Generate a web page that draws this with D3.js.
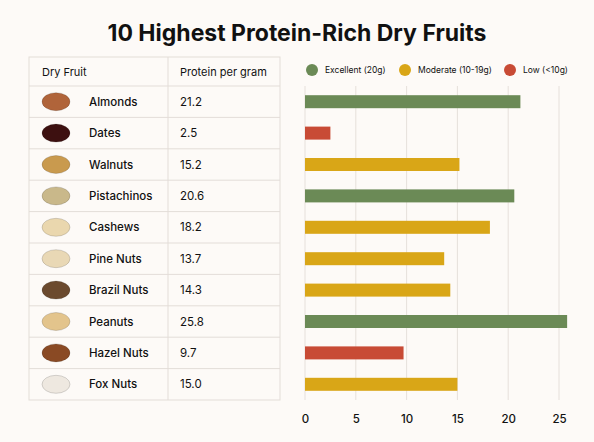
<!DOCTYPE html>
<html><head><meta charset="utf-8">
<script src="https://cdn.jsdelivr.net/npm/d3@7"></script>
<style>body{margin:0;background:#fdfaf7;font-family:Inter,"Open Sans",sans-serif;}</style>
</head><body><svg id="c" width="594" height="442"></svg>
<script>
const fruits = ['Almonds','Dates','Walnuts','Pistachinos','Cashews','Pine Nuts','Brazil Nuts','Peanuts','Hazel Nuts','Fox Nuts'];
const protein = [21.2, 2.5, 15.2, 20.6, 18.2, 13.7, 14.3, 25.8, 9.7, 15.0];
const labels = ['21.2','2.5','15.2','20.6','18.2','13.7','14.3','25.8','9.7','15.0'];
const iconColors = ['#b0643a','#3d1010','#c99a4e','#c9b88a','#ead7ae','#e9d8b5','#6b4a2e','#e3c48c','#8a4a24','#eee8e0'];
const legendNames = ['Excellent (20g)','Moderate (10-19g)','Low (<10g)'];
const legendColors = ['#6b8a56','#d9a617','#c84b35'];
const ticks = [0,5,10,15,20,25];

const svg = d3.select('#c');
svg.append('rect').attr('width',594).attr('height',442).attr('fill','#fdfaf7');
svg.append('text').attr('x',297).attr('y',41).attr('text-anchor','middle')
  .attr('font-size',23).attr('font-weight',700).attr('fill','#111')
  .text('10 Highest Protein-Rich Dry Fruits');

const y = d3.scaleBand().domain(fruits).range([86,400]);
const x = d3.scaleLinear().domain([0,25]).range([305,559]);
const color = v => v >= 20 ? legendColors[0] : v >= 10 ? legendColors[1] : legendColors[2];

// table
const t = svg.append('g').attr('stroke','#e3ddd8').attr('fill','none');
t.append('rect').attr('x',29).attr('y',57).attr('width',251).attr('height',343);
t.append('line').attr('x1',168).attr('x2',168).attr('y1',57).attr('y2',400);
[86].concat(fruits.slice(1).map(f=>y(f))).forEach(v=>
  t.append('line').attr('x1',29).attr('x2',280).attr('y1',v).attr('y2',v));
svg.append('text').attr('x',42).attr('y',76).attr('font-size',11).attr('fill','#111').text('Dry Fruit');
svg.append('text').attr('x',180).attr('y',76).attr('font-size',11).attr('fill','#111').text('Protein per gram');

const rows = svg.append('g').selectAll('g').data(fruits).join('g')
  .attr('transform', f => `translate(0,${y(f)+y.bandwidth()/2})`);
rows.append('ellipse').attr('cx',56).attr('rx',14).attr('ry',9)
  .attr('fill',(f,i)=>iconColors[i]).attr('stroke','rgba(0,0,0,0.15)');
rows.append('text').attr('x',89).attr('dy','0.35em').attr('font-size',11.5).attr('font-weight',500).attr('fill','#111').text(f=>f);
rows.append('text').attr('x',180).attr('dy','0.35em').attr('font-size',11.5).attr('fill','#111').text((f,i)=>labels[i]);

// grid
svg.append('g').selectAll('line').data(ticks).join('line')
  .attr('x1',d=>x(d)).attr('x2',d=>x(d)).attr('y1',86).attr('y2',400)
  .attr('stroke','#e6e0db');
const ax = svg.append('g').attr('transform','translate(0,400)')
  .call(d3.axisBottom(x).tickValues(ticks).tickSize(0).tickPadding(15));
ax.select('.domain').remove();
ax.selectAll('text').attr('font-size',11.5).attr('font-weight',500).attr('fill','#111')
  .attr('font-family','Inter,"Open Sans",sans-serif');

// bars
svg.append('g').selectAll('rect').data(fruits).join('rect')
  .attr('x',x(0)).attr('y',f=>y(f)+y.bandwidth()/2-6.5).attr('height',13)
  .attr('width',(f,i)=>x(protein[i])-x(0)).attr('fill',(f,i)=>color(protein[i]));

// legend
const lx = [312,405,510];
const lg = svg.append('g').selectAll('g').data(legendNames).join('g')
  .attr('transform',(d,i)=>`translate(${lx[i]},70)`);
lg.append('circle').attr('r',6).attr('fill',(d,i)=>legendColors[i]);
lg.append('text').attr('x',13).attr('dy','0.35em').attr('font-size',8.5).attr('fill','#111').text(d=>d);
</script></body></html>
